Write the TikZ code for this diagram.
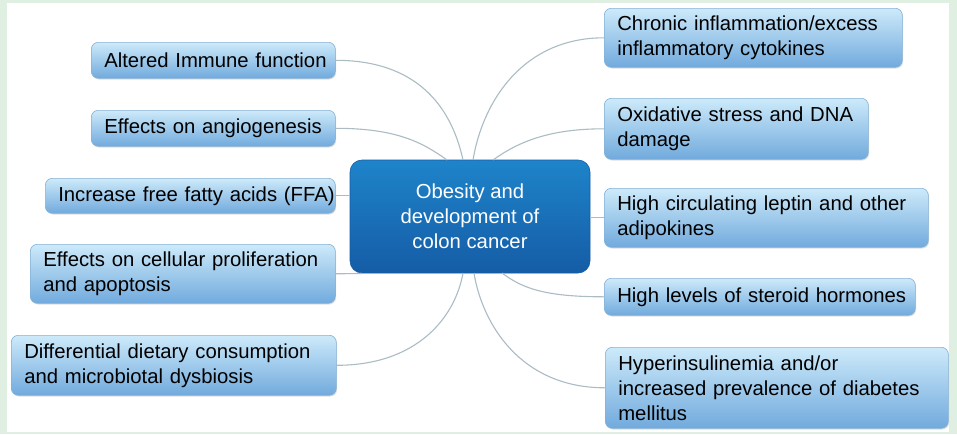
\documentclass[tikz,border=0pt]{standalone}
\usepackage{fontspec}
\setmainfont{Liberation Sans}
\usetikzlibrary{shadows}
\definecolor{framegreen}{HTML}{DFF0E3}
\definecolor{boxtop}{HTML}{CDEAFA}
\definecolor{boxmid}{HTML}{92C6EB}
\definecolor{boxbot}{HTML}{71AADD}
\definecolor{boxedge}{HTML}{86B2D6}
\definecolor{ctop}{HTML}{1E84CA}
\definecolor{cbot}{HTML}{155CA6}
\definecolor{linkc}{HTML}{ABBCC4}
\begin{document}
\begin{tikzpicture}[x=1pt,y=-1pt,
  leaf/.style={draw=boxedge, line width=0.6pt, rounded corners=7pt,
    top color=boxtop, middle color=boxmid, bottom color=boxbot, anchor=north west,
    inner xsep=13pt, inner ysep=0pt, align=left, text=black,
    font=\fontsize{20.3}{25}\selectfont,
    drop shadow={shadow xshift=0.8pt, shadow yshift=-1.2pt, opacity=0.25}},
  hub/.style={draw=cbot, line width=0.6pt, rounded corners=12pt,
    top color=ctop, bottom color=cbot, align=center, text=white,
    minimum width=240pt, minimum height=113pt, inner sep=0pt,
    font=\fontsize{20.3}{25}\selectfont},
  linkline/.style={draw=linkc, line width=1.1pt}]
\useasboundingbox (0,0) rectangle (957,434);
\fill[framegreen] (0,0) rectangle (957,434);
\fill[white] (7,3) rectangle (949,432);

% centre
\node[hub] (c) at (470,216.5) {Obesity and\\development of\\colon cancer};

% left
\node[leaf, text width=218pt, minimum height=36pt] (l1) at (91,42) {\mbox{Altered Immune function}};
\node[leaf, text width=218pt, minimum height=36pt] (l2) at (91,110) {\mbox{Effects on angiogenesis}};
\node[leaf, text width=264pt, minimum height=35pt] (l3) at (45,178) {\mbox{Increase free fatty acids (FFA)}};
\node[leaf, text width=279pt, minimum height=59pt] (l4) at (30,244) {\mbox{Effects on cellular proliferation}\\\mbox{and apoptosis}};
\node[leaf, text width=299pt, minimum height=60pt] (l5) at (11,335) {\mbox{Differential dietary consumption}\\\mbox{and microbiotal dysbiosis}};

% right
\node[leaf, text width=272pt, minimum height=59pt] (r1) at (604,8) {\mbox{Chronic inflammation/excess}\\\mbox{inflammatory cytokines}};
\node[leaf, text width=238pt, minimum height=61pt] (r2) at (604,98) {\mbox{Oxidative stress and DNA}\\\mbox{damage}};
\node[leaf, text width=298pt, minimum height=59pt] (r3) at (604,188) {\mbox{High circulating leptin and other}\\\mbox{adipokines}};
\node[leaf, text width=285pt, minimum height=37pt] (r4) at (604,278) {\mbox{High levels of steroid hormones}};
\node[leaf, text width=317pt, minimum height=81pt] (r5) at (605,347) {\mbox{Hyperinsulinemia and/or}\\\mbox{increased prevalence of diabetes}\\\mbox{mellitus}};

% connection points on the centre box
\coordinate (t1) at (463,160);
\coordinate (t2) at (447,160);
\coordinate (t3) at (473,160);
\coordinate (t4) at (493,160);
\coordinate (t5) at (362,273.5);
\coordinate (t6) at (502,273);
\coordinate (t7) at (463,273);
\coordinate (t8) at (474,273);

% connectors
\draw[linkline] (l1.east) .. controls +(80,0) and +(-12,-55) .. (t1);
\draw[linkline] (l2.east) .. controls +(60,0) and +(-25,-18) .. (t2);
\draw[linkline] (r1.west) .. controls +(-80,0) and +(10,-60) .. (t3);
\draw[linkline] (r2.west) .. controls +(-55,0) and +(25,-18) .. (t4);
\draw[linkline] (l3.east) -- (l3.east -| c.west);
\draw[linkline] (r3.west) -- (r3.west -| c.east);
\draw[linkline] (l4.east) -- (t5);
\draw[linkline] (r4.west) .. controls +(-60,0) and +(20,15) .. (t6);
\draw[linkline] (l5.east) .. controls +(80,0) and +(-8,45) .. (t7);
\draw[linkline] (r5.west) .. controls +(-85,0) and +(8,50) .. (t8);
\end{tikzpicture}
\end{document}
